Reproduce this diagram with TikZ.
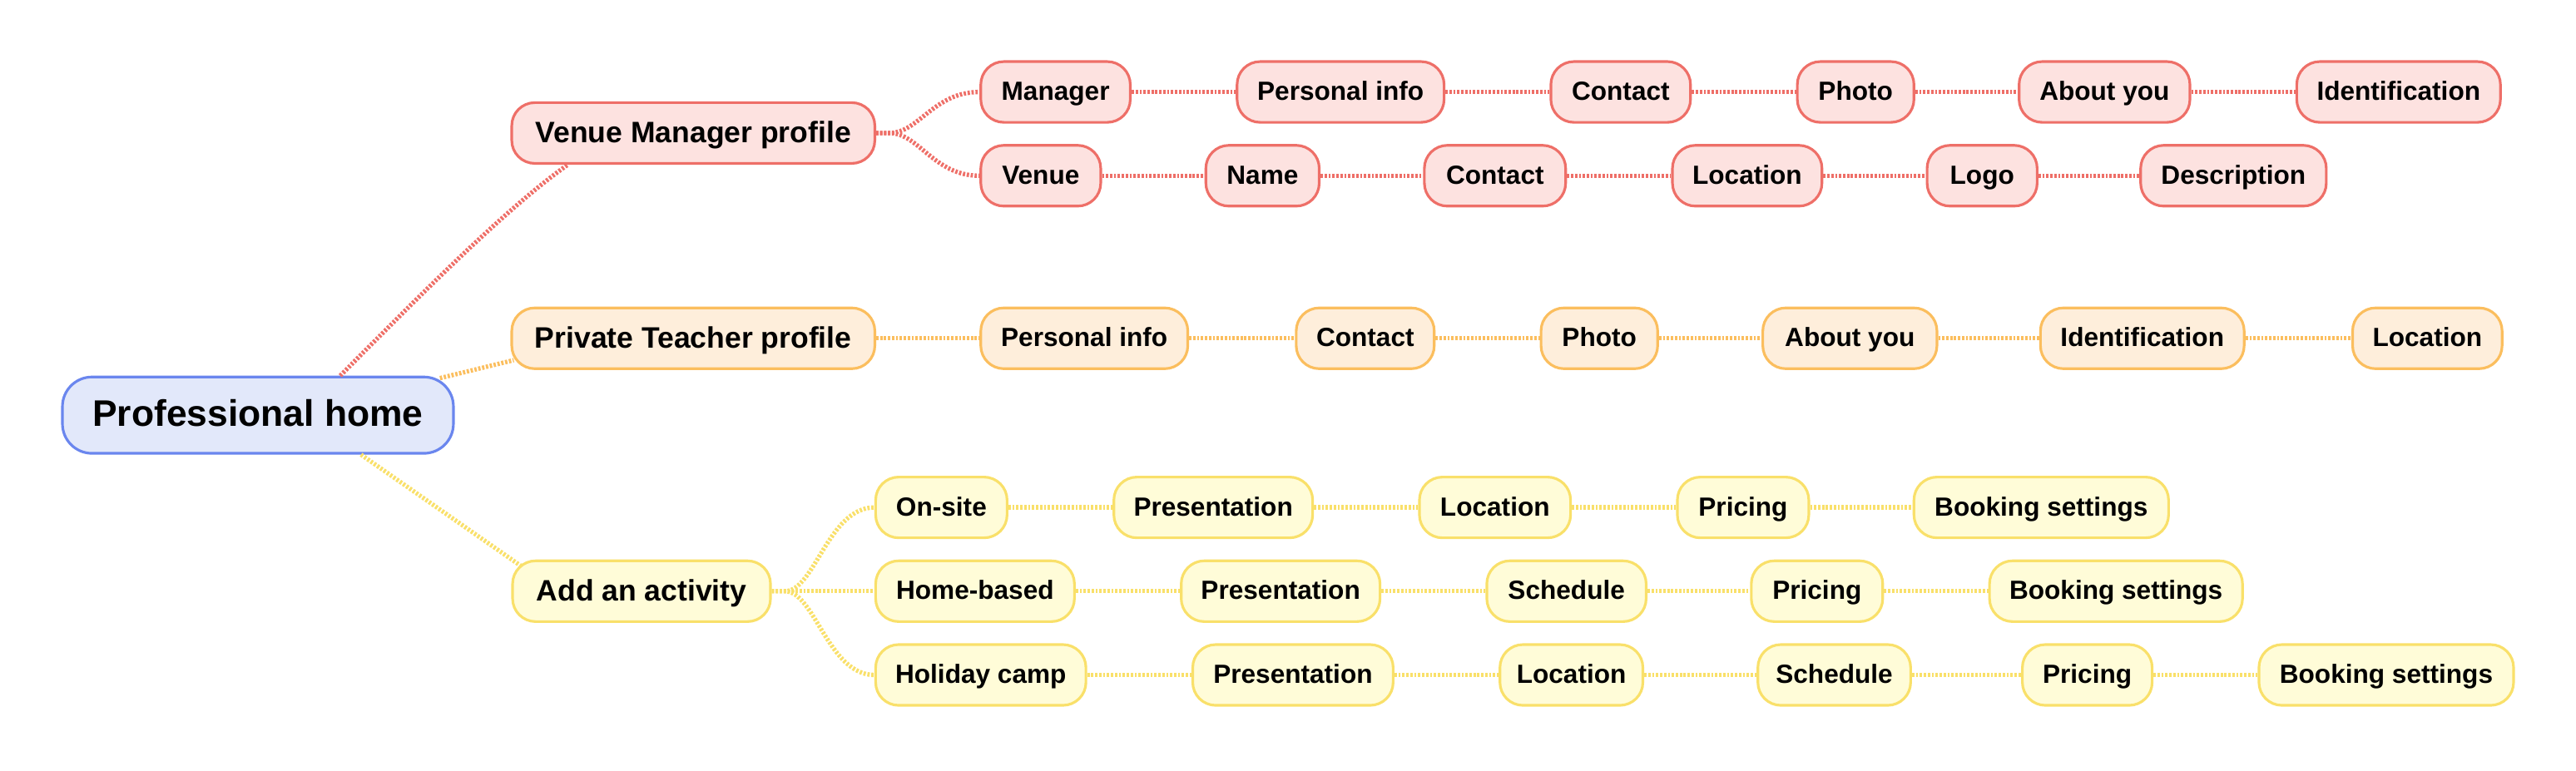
\documentclass[tikz,border=0pt]{standalone}
\usepackage{fontspec}
\setmainfont{Liberation Sans}
\usetikzlibrary{calc}
\definecolor{rootB}{HTML}{6A86EE}
\definecolor{rootF}{HTML}{E2E8FA}
\definecolor{redB}{HTML}{EE6F68}
\definecolor{redF}{HTML}{FDE2E0}
\definecolor{orB}{HTML}{FBBE5E}
\definecolor{orF}{HTML}{FEEEDB}
\definecolor{yeB}{HTML}{F9E06A}
\definecolor{yeF}{HTML}{FFFCD8}
\tikzset{
 pill/.style={rectangle, rounded corners=14pt, line width=1.6pt, minimum height=37pt, inner sep=2pt, text height=13pt, text depth=3pt, font=\bfseries\fontsize{16}{19}\selectfont},
 rbox/.style={pill, draw=redB, fill=redF},
 obox/.style={pill, draw=orB, fill=orF},
 ybox/.style={pill, draw=yeB, fill=yeF},
 lone/.style={font=\bfseries\fontsize{18}{21}\selectfont, text height=15pt, text depth=3.5pt},
 rootbox/.style={pill, rounded corners=18pt, minimum height=46.5pt, draw=rootB, fill=rootF, font=\bfseries\fontsize{22.5}{26}\selectfont, text height=18.5pt, text depth=4.5pt},
 link/.style={line width=2.7pt, dash pattern=on 1.4pt off 1.0pt},
 rlink/.style={link, draw=redB},
 olink/.style={link, draw=orB},
 ylink/.style={link, draw=yeB},
}
\begin{document}
\begin{tikzpicture}[x=1pt,y=-1pt]
\useasboundingbox (0,0) rectangle (1568,469);
% root
\node[rootbox, minimum width=238pt] (root) at (157,252.8) {Professional home};
% level 1
\node[rbox, lone, minimum width=221pt] (vm) at (422,81) {Venue Manager profile};
\node[obox, lone, minimum width=221pt] (pt) at (422,206) {Private Teacher profile};
\node[ybox, lone, minimum width=157pt] (aa) at (390.5,360) {Add an activity};
% red row 1
\node[rbox, minimum width=91pt]  (r11) at (642.5,56) {Manager};
\node[rbox, minimum width=126pt] (r12) at (816,56) {Personal info};
\node[rbox, minimum width=85pt]  (r13) at (986.5,56) {Contact};
\node[rbox, minimum width=71pt]  (r14) at (1129.5,56) {Photo};
\node[rbox, minimum width=104pt] (r15) at (1281,56) {About you};
\node[rbox, minimum width=124pt] (r16) at (1460,56) {Identification};
% red row 2
\node[rbox, minimum width=73pt]  (r21) at (633.5,107) {Venue};
\node[rbox, minimum width=69pt]  (r22) at (768.5,107) {Name};
\node[rbox, minimum width=86pt]  (r23) at (910,107) {Contact};
\node[rbox, minimum width=91pt]  (r24) at (1063.5,107) {Location};
\node[rbox, minimum width=67pt]  (r25) at (1206.5,107) {Logo};
\node[rbox, minimum width=113pt] (r26) at (1359.5,107) {Description};
% orange row
\node[obox, minimum width=126pt] (o1) at (660,206) {Personal info};
\node[obox, minimum width=84pt]  (o2) at (831,206) {Contact};
\node[obox, minimum width=71pt]  (o3) at (973.5,206) {Photo};
\node[obox, minimum width=106pt] (o4) at (1126,206) {About you};
\node[obox, minimum width=124pt] (o5) at (1304,206) {Identification};
\node[obox, minimum width=91pt]  (o6) at (1477.5,206) {Location};
% yellow row 1
\node[ybox, minimum width=80pt]  (y11) at (573,309) {On-site};
\node[ybox, minimum width=121pt] (y12) at (738.5,309) {Presentation};
\node[ybox, minimum width=92pt]  (y13) at (910,309) {Location};
\node[ybox, minimum width=80pt]  (y14) at (1061,309) {Pricing};
\node[ybox, minimum width=155pt] (y15) at (1242.5,309) {Booking settings};
% yellow row 2
\node[ybox, minimum width=121pt] (y21) at (593.5,360) {Home-based};
\node[ybox, minimum width=121pt] (y22) at (779.5,360) {Presentation};
\node[ybox, minimum width=97pt]  (y23) at (953.5,360) {Schedule};
\node[ybox, minimum width=80pt]  (y24) at (1106,360) {Pricing};
\node[ybox, minimum width=154pt] (y25) at (1288,360) {Booking settings};
% yellow row 3
\node[ybox, minimum width=128pt] (y31) at (597,411) {Holiday camp};
\node[ybox, minimum width=122pt] (y32) at (787,411) {Presentation};
\node[ybox, minimum width=87pt]  (y33) at (956.5,411) {Location};
\node[ybox, minimum width=93pt]  (y34) at (1116.5,411) {Schedule};
\node[ybox, minimum width=79pt]  (y35) at (1270.5,411) {Pricing};
\node[ybox, minimum width=155pt] (y36) at (1452.5,411) {Booking settings};

% root connectors
\coordinate (s1) at ($(root.north west)!0.709!(root.north east)$);
\coordinate (e1) at ($(vm.south west)!0.157!(vm.south east)$);
\draw[rlink] (s1) .. controls ($(s1)+(40,-40)$) and ($(e1)+(-40,28)$) .. (e1);
\coordinate (s2) at ($(root.north east)+(-9,1.5)$);
\coordinate (e2) at ($(pt.south west)+(2,-6)$);
\draw[olink] (s2) -- (e2);
\coordinate (s3) at ($(root.south west)!0.762!(root.south east)$);
\coordinate (e3) at ($(aa.north west)+(6,4)$);
\draw[ylink] (s3) -- (e3);

% branch connectors
\draw[rlink] (vm.east) -- +(8,0) .. controls +(18,0) and +(-28,0) .. (r11.west);
\draw[rlink] (vm.east) -- +(8,0) .. controls +(18,0) and +(-28,0) .. (r21.west);
\draw[ylink] (aa.east) -- +(8,0) .. controls +(18,0) and +(-28,0) .. (y11.west);
\draw[ylink] (aa.east) -- (y21.west);
\draw[ylink] (aa.east) -- +(8,0) .. controls +(18,0) and +(-28,0) .. (y31.west);
\draw[olink] (pt.east) -- (o1.west);

% chains
\foreach \a/\b in {r11/r12,r12/r13,r13/r14,r14/r15,r15/r16,r21/r22,r22/r23,r23/r24,r24/r25,r25/r26}
  \draw[rlink] (\a.east) -- (\b.west);
\foreach \a/\b in {o1/o2,o2/o3,o3/o4,o4/o5,o5/o6}
  \draw[olink] (\a.east) -- (\b.west);
\foreach \a/\b in {y11/y12,y12/y13,y13/y14,y14/y15,y21/y22,y22/y23,y23/y24,y24/y25,y31/y32,y32/y33,y33/y34,y34/y35,y35/y36}
  \draw[ylink] (\a.east) -- (\b.west);
\end{tikzpicture}
\end{document}
